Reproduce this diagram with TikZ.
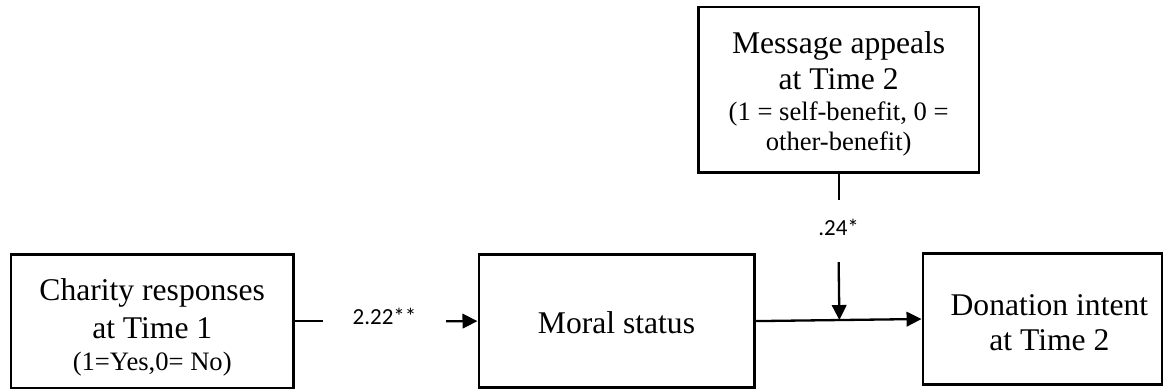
\documentclass[tikz,border=0pt]{standalone}
\usepackage{fontspec}
\setmainfont{Liberation Serif}
\newfontfamily\lblfont{Carlito}
\usetikzlibrary{arrows.meta,calc}

% one line of text: size, baselineskip, text
\newcommand{\tline}[3]{{\fontsize{#1}{#2}\selectfont #3\par}}
% box content: width, height, top space, lines
\newcommand{\boxtext}[4]{\parbox[c][#2][t]{#1}{\centering\vspace*{#3}#4}}
\newcommand{\fstrut}{\rule{0pt}{24pt}}

\tikzset{
  varbox/.style={draw=black, line width=2.5pt, inner sep=0pt, fill=white},
  conn/.style={draw=black, line width=2.3pt},
  arr/.style={conn, -{Triangle[length=15pt,width=14.5pt]}},
  lbl/.style={font=\lblfont\fontsize{23}{27}\selectfont, inner sep=0pt}
}

\begin{document}
\begin{tikzpicture}[x=1pt,y=-1pt]
\useasboundingbox (0,0) rectangle (1165,390);

\node[varbox] (cr) at (152.25,321.2) {\boxtext{282.5pt}{133.7pt}{21.7pt}{%
  \tline{31.6}{38}{\fstrut Charity responses}%
  \tline{31.6}{38}{at Time 1}%
  \tline{26.6}{32}{(1=Yes,0= No)}}};

\node[varbox] (ms) at (616.5,321.1) {\boxtext{275.5pt}{133.2pt}{54.8pt}{%
  \tline{31.6}{38}{\fstrut Moral status}}};

\node[varbox] (ma) at (838.65,90) {\boxtext{280.7pt}{165.5pt}{22pt}{%
  \tline{31.6}{38}{\fstrut Message appeals}%
  \tline{31.6}{36.7}{at Time 2}%
  \tline{26.6}{31}{(1 = self-benefit, 0 =}%
  \tline{26.6}{30}{other-benefit)}}};

\node[varbox] (di) at (1042.4,319) {\boxtext{239.2pt}{131pt}{37.5pt}{%
  \tline{31.6}{38}{\hspace*{14pt}\fstrut Donation intent}%
  \tline{31.6}{35}{\hspace*{14pt}at Time 2}}};

% path coefficient labels
\node[lbl, minimum width=123pt, text depth=9.4pt] (l1) at (384.5,321.2) {2.22**};
\node[lbl, minimum height=62pt, text depth=7pt] (l2) at (838.65,231) {.24*};

% connectors
\draw[conn] (cr.east) -- (l1.west);
\draw[arr] (l1.east) -- (ms.west);
\draw[arr] (ms.east) -- (di.west);
\coordinate (hit) at ($(ms.east)!(l2.south)!(di.west)$);
\draw[conn] (ma.south) -- (l2.north);
\draw[arr] (l2.south) -- (hit);
\end{tikzpicture}
\end{document}
